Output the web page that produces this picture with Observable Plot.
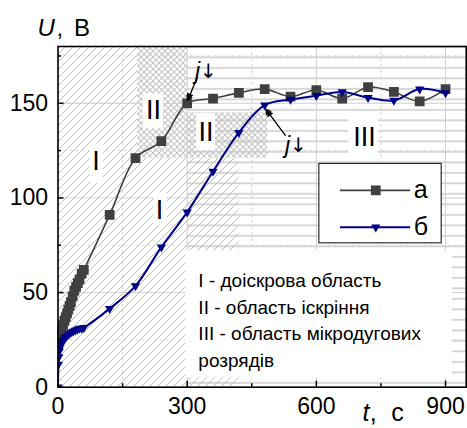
<!DOCTYPE html>
<html><head><meta charset="utf-8">
<script src="https://cdn.jsdelivr.net/npm/d3@7"></script>
<script src="https://cdn.jsdelivr.net/npm/@observablehq/plot@0.6"></script>
<style>body{margin:0;background:#fff}</style>
</head><body><div id="chart"></div>
<script>
// ---- data ----
const tA = [0, 2, 4, 6, 9, 12, 15, 18, 21, 24, 27, 30, 34, 38, 42, 46, 50, 55, 60, 120, 180, 240, 300, 360, 420, 480, 540, 600, 660, 720, 780, 840, 900];
const uA = [22, 25, 27, 29, 31, 33, 35, 37, 39, 41, 43, 45, 48, 51, 53, 55, 57, 60, 62, 91, 121, 130, 150, 152.5, 155.5, 157.5, 153.5, 157, 152.5, 158.5, 156, 151, 157.5];
const tB = [0, 1, 2, 3, 5, 7, 10, 13, 16, 20, 25, 30, 35, 40, 45, 50, 55, 60, 120, 180, 240, 300, 360, 420, 480, 540, 600, 660, 720, 780, 840, 900];
const uB = [0, 12, 16, 19, 21, 22.5, 24, 25, 26, 27, 28, 29, 29.5, 30, 30.5, 31, 31, 31.5, 41.5, 53.5, 74, 92.5, 114, 134.5, 149, 152, 154, 156, 153, 151.5, 157.5, 155.5];
const seriesNames = ["а", "б"];
const xTicks = [0, 300, 600, 900];
const yTicks = [0, 50, 100, 150];
const xMinor = [150, 450, 750];
const yMinor = [25, 75, 125, 175];
// region areas (t1,t2,u1,u2)
const stripeAreas = [[300, 948, 0, 180]];
const diagAreas = [[0, 185, 0, 180], [185, 420, 0, 121]];
const crossAreas = [[185, 300, 121, 180], [300, 487, 121, 145]];
// region labels
const regionText = ["I", "II", "II", "III", "I"];
const regionT = [88, 222, 344, 712, 236];
const regionU = [119.5, 146, 134.5, 132, 93.3];
const regionBoxT = [[75, 106], [198, 245], [322, 366], [675, 744], [222, 254]];
const regionBoxU = [[108, 129], [136.5, 155], [125, 144.5], [121.3, 142.4], [85.4, 102.8]];
// annotation text block
const noteLines = ["I - доіскрова область", "II - область іскріння", "III - область мікродугових", "розрядів"];
const noteU = [56.4, 42.1, 28.4, 14.1];
const noteBox = {t1: 296, t2: 916, u1: 5, u2: 72};
const noteT = 326;
// current-drop markers
const jT = [333, 542];
const jU = [166.5, 127.5];
const arrowsFrom = [[323, 163.5], [528, 133]];
const arrowsTo = [[301, 151.5], [483, 146.8]];
const arrowHeadT = [305, 490.5];
const arrowHeadU = [154, 144.5];
const arrowHeadAngle = [203, 323];
// legend
const legendBox = {t1: 607, t2: 891, u1: 76, u2: 118};
const legendU = [104, 84.5];
const legendLineT = [656, 819];
const legendMarkT = 738;
const legendTextT = 826;

const dataA = tA.map((t, i) => ({t, u: uA[i]}));
const dataB = tB.map((t, i) => ({t, u: uB[i]}));
const toRect = a => ({t1: a[0], t2: a[1], u1: a[2], u2: a[3]});

const W = 467, H = 428, mL = 57.5, mR = 1.3, mT = 46, mB = 41.3;
const fH = H - mT - mB, fW = W - mL - mR;
const FONT = "Liberation Sans, Arial, Helvetica, sans-serif";
const gray = "#404040", navy = "#00008a";

const plot = Plot.plot({
  width: W, height: H,
  marginLeft: mL, marginRight: mR, marginTop: mT, marginBottom: mB,
  x: {domain: [0, 948]},
  y: {domain: [0, 180]},
  style: {fontFamily: FONT, fontSize: "23px", background: "white", color: "black"},
  marks: [
    Plot.rect(stripeAreas.map(toRect), {x1: "t1", x2: "t2", y1: "u1", y2: "u2", fill: "url(#hStripe)"}),
    Plot.rect(diagAreas.map(toRect), {x1: "t1", x2: "t2", y1: "u1", y2: "u2", fill: "url(#hDiag)"}),
    Plot.rect(crossAreas.map(toRect), {x1: "t1", x2: "t2", y1: "u1", y2: "u2", fill: "url(#hCross)"}),
    Plot.ruleX(xTicks.slice(1), {x: d => d, stroke: "#cfcfcf", strokeWidth: 1}),
    Plot.ruleY(yTicks.slice(1), {y: d => d, stroke: "#cfcfcf", strokeWidth: 1}),
    Plot.ruleX(xMinor, {x: d => d, stroke: "#d4d4d4", strokeWidth: 1, strokeDasharray: "3,3"}),
    Plot.ruleY(yMinor, {y: d => d, stroke: "#d4d4d4", strokeWidth: 1, strokeDasharray: "3,3"}),
    // region labels
    Plot.rect(regionText, {x1: (d, i) => regionBoxT[i][0], x2: (d, i) => regionBoxT[i][1], y1: (d, i) => regionBoxU[i][0], y2: (d, i) => regionBoxU[i][1], fill: "white"}),
    Plot.text(regionText, {x: (d, i) => regionT[i], y: (d, i) => regionU[i], text: d => d, fontSize: 27, fill: "black"}),
    // note block
    Plot.rect([noteBox], {x1: "t1", x2: "t2", y1: "u1", y2: "u2", fill: "white"}),
    Plot.text(noteLines, {x: noteT, y: (d, i) => noteU[i], text: d => d, textAnchor: "start", fontSize: 19, fill: "black"}),
    // legend
    Plot.rect([legendBox], {x1: "t1", x2: "t2", y1: "u1", y2: "u2", fill: "white", stroke: "black", strokeWidth: 1}),
    Plot.ruleY([legendU[0]], {y: d => d, x1: legendLineT[0], x2: legendLineT[1], stroke: gray, strokeWidth: 1.6}),
    Plot.ruleY([legendU[1]], {y: d => d, x1: legendLineT[0], x2: legendLineT[1], stroke: navy, strokeWidth: 2}),
    Plot.dot([legendU[0]], {x: legendMarkT, y: d => d, symbol: "square", r: 5.5, fill: gray}),
    Plot.dot([legendU[1]], {x: legendMarkT, y: d => d, symbol: "triangle2", rotate: 180, r: 4.4, fill: navy}),
    Plot.text(seriesNames, {x: legendTextT, y: (d, i) => legendU[i], text: d => d, textAnchor: "start", fontSize: 25, fill: "black"}),
    // curves
    Plot.line(dataA, {x: "t", y: "u", curve: "catmull-rom", stroke: gray, strokeWidth: 1.6, clip: true}),
    Plot.dot(dataA, {x: "t", y: "u", symbol: "square", r: 5.5, fill: gray, clip: true}),
    Plot.line(dataB, {x: "t", y: "u", curve: "catmull-rom", stroke: navy, strokeWidth: 2, clip: true}),
    Plot.dot(dataB, {x: "t", y: "u", symbol: "triangle2", rotate: 180, r: 4.4, fill: navy, clip: true}),
    // current drop arrows
    Plot.arrow(arrowsFrom, {x1: d => d[0], y1: d => d[1], x2: (d, i) => arrowsTo[i][0], y2: (d, i) => arrowsTo[i][1], bend: 0, headLength: 6, strokeWidth: 1.3, stroke: "black"}),
    Plot.dot(arrowHeadT, {x: d => d, y: (d, i) => arrowHeadU[i], symbol: "triangle2", rotate: (d, i) => arrowHeadAngle[i], r: 3.4, fill: "black"}),
    Plot.text(jT, {x: d => d - 9, y: (d, i) => jU[i], text: () => "j", fontStyle: "italic", fontSize: 23, fill: "black"}),
    Plot.text(jT, {x: d => d + 16, y: (d, i) => jU[i], text: () => "↓", fontFamily: "DejaVu Sans", fontSize: 20, fill: "black"}),
    // ticks
    Plot.tickX(xTicks, {x: d => d, insetTop: fH - 6, stroke: "black", strokeWidth: 1.5}),
    Plot.tickX(xMinor, {x: d => d, insetTop: fH - 3.5, stroke: "black", strokeWidth: 1.5}),
    Plot.tickY(yTicks, {y: d => d, insetRight: fW - 6, stroke: "black", strokeWidth: 1.5}),
    Plot.tickY(yMinor, {y: d => d, insetRight: fW - 3.5, stroke: "black", strokeWidth: 1.5}),
    Plot.frame({stroke: "black", strokeWidth: 1.6}),
    Plot.axisX(xTicks, {tickSize: 0, tickPadding: 10, fontSize: 23, label: null}),
    Plot.axisY(yTicks, {tickSize: 0, tickPadding: 10, fontSize: 23, label: null}),
    // axis titles
    Plot.text(["U"], {frameAnchor: "top-left", dx: -20.5, dy: -10.5, lineAnchor: "bottom", textAnchor: "start", fontStyle: "italic", fontSize: 24, fill: "black", text: d => d}),
    Plot.text([","], {frameAnchor: "top-left", dx: -1.5, dy: -10.5, lineAnchor: "bottom", textAnchor: "start", fontSize: 24, fill: "black", text: d => d}),
    Plot.text(["В"], {frameAnchor: "top-left", dx: 32, dy: -10.5, lineAnchor: "bottom", textAnchor: "end", fontSize: 24, fill: "black", text: d => d}),
    Plot.text(["t"], {frameAnchor: "bottom-right", dx: -103.7, dy: 34, lineAnchor: "bottom", textAnchor: "start", fontStyle: "italic", fontSize: 25, fill: "black", text: d => d}),
    Plot.text([","], {frameAnchor: "bottom-right", dx: -96.5, dy: 34, lineAnchor: "bottom", textAnchor: "start", fontSize: 25, fill: "black", text: d => d}),
    Plot.text(["с"], {frameAnchor: "bottom-right", dx: -62.5, dy: 34, lineAnchor: "bottom", textAnchor: "end", fontSize: 25, fill: "black", text: d => d})
  ]
});

const defs = d3.select(plot).insert("defs", ":first-child");
const pd = defs.append("pattern").attr("id", "hDiag").attr("patternUnits", "userSpaceOnUse").attr("width", 8).attr("height", 8);
pd.append("path").attr("d", "M-2,2L2,-2M0,8L8,0M6,10L10,6").attr("stroke", "#bcbcbc").attr("stroke-width", 1).attr("fill", "none");
const pc = defs.append("pattern").attr("id", "hCross").attr("patternUnits", "userSpaceOnUse").attr("width", 6).attr("height", 6);
pc.append("path").attr("d", "M0,0L6,6M6,0L0,6").attr("stroke", "#c6c6c6").attr("stroke-width", 1.2).attr("fill", "none");
const ps = defs.append("pattern").attr("id", "hStripe").attr("patternUnits", "userSpaceOnUse").attr("width", 10).attr("height", 10.5);
ps.append("rect").attr("x", 0).attr("y", 4).attr("width", 10).attr("height", 1.8).attr("fill", "#d2d2d2");

document.getElementById("chart").appendChild(plot);
</script>
</body></html>
